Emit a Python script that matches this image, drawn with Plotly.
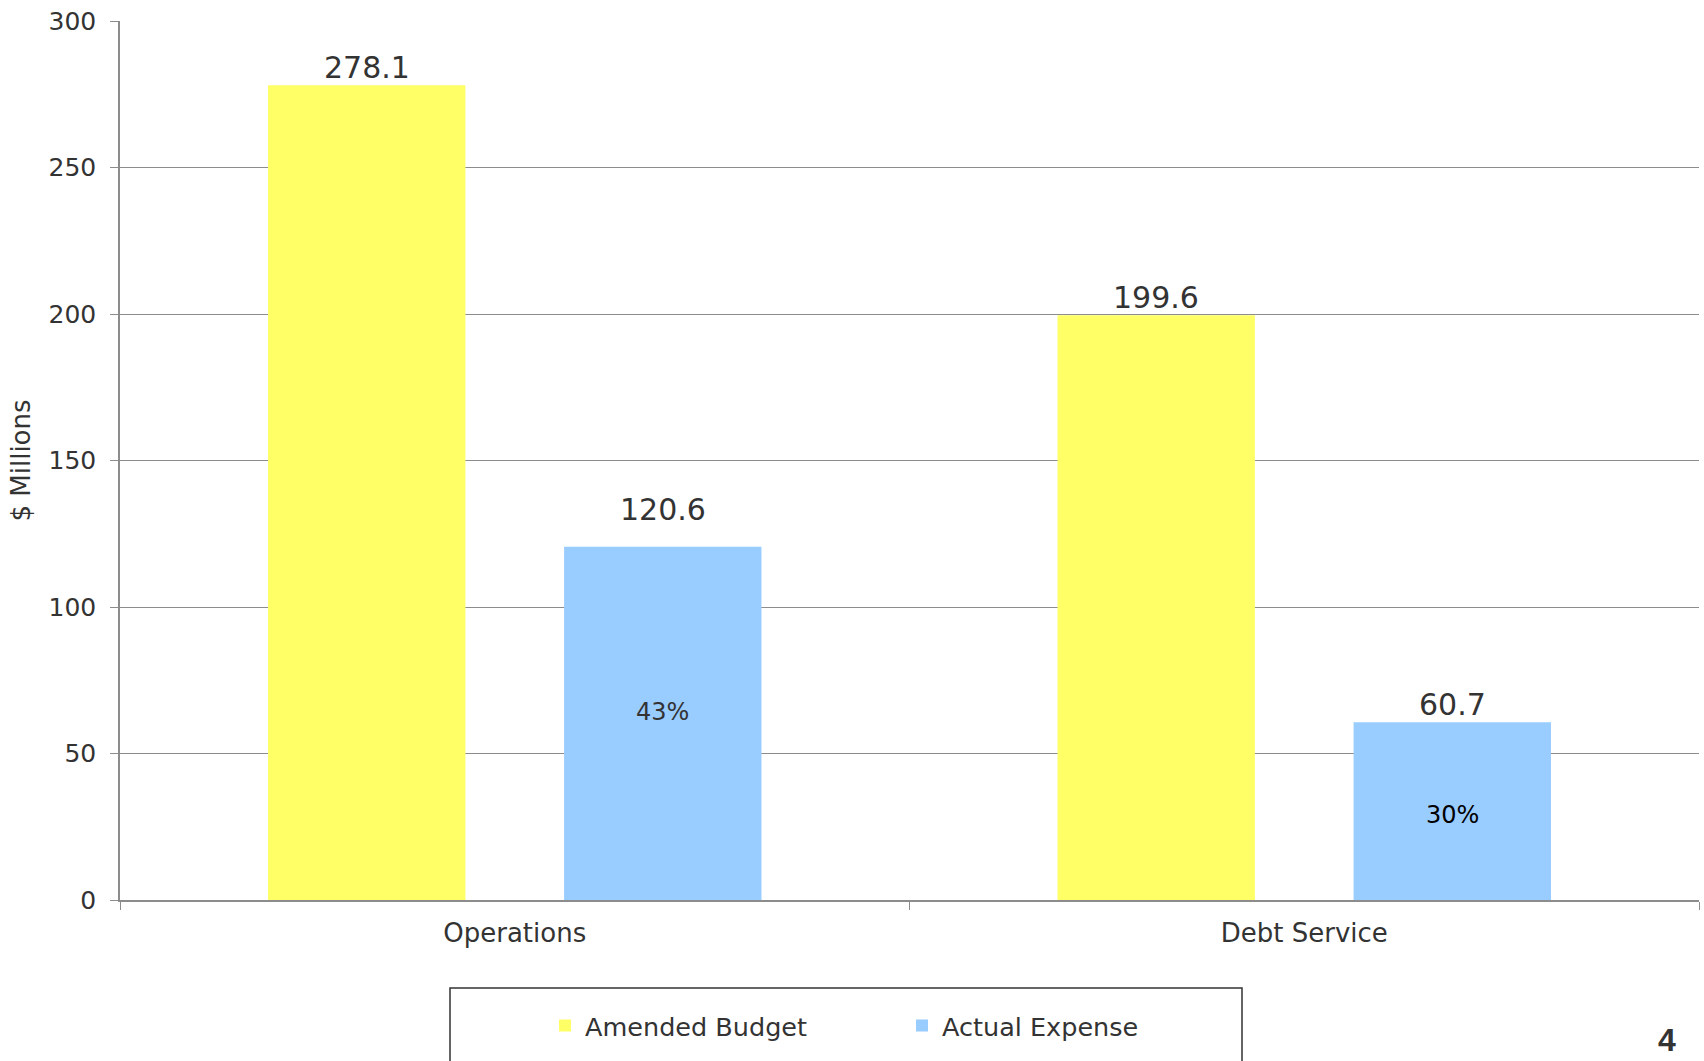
import plotly.graph_objects as go

categories = ["Operations", "Debt Service"]
amended_budget = [278.1, 199.6]
actual_expense = [120.6, 60.7]
pct_labels = ["43%", "30%"]
y_ticks = [0, 50, 100, 150, 200, 250, 300]

# styling
YELLOW = "#FFFF66"
BLUE = "#99CCFF"
TXT = "#333333"
GRID = "#8C8C8C"
FONT = "DejaVu Sans"
value_yshift_budget = [-2, -2]
value_yshift_actual = [18, -2]
pct_yshift = [11, -4]
pct_colors = ["#333333", "#000000"]
offset = 0.1875

fig = go.Figure()
fig.add_trace(go.Bar(name="Amended Budget", x=categories, y=amended_budget,
                     marker=dict(color=YELLOW, line=dict(width=0))))
fig.add_trace(go.Bar(name="Actual Expense", x=categories, y=actual_expense,
                     marker=dict(color=BLUE, line=dict(width=0))))

annotations = []
for i, c in enumerate(categories):
    annotations.append(dict(x=i - offset, y=amended_budget[i], xref="x", yref="y",
                            text=f"{amended_budget[i]:.1f}", showarrow=False, yanchor="bottom",
                            yshift=value_yshift_budget[i], font=dict(family=FONT, size=30, color=TXT)))
    annotations.append(dict(x=i + offset, y=actual_expense[i], xref="x", yref="y",
                            text=f"{actual_expense[i]:.1f}", showarrow=False, yanchor="bottom",
                            yshift=value_yshift_actual[i], font=dict(family=FONT, size=30, color=TXT)))
    annotations.append(dict(x=i + offset, y=actual_expense[i] / 2, xref="x", yref="y",
                            text=pct_labels[i], showarrow=False, yanchor="middle",
                            yshift=pct_yshift[i], font=dict(family=FONT, size=24, color=pct_colors[i])))

W, H = 1704, 1061
L, R, T, B = 120, 5, 21, 161
pw, ph = W - L - R, H - T - B

def px2paper_x(px):
    return (px - L) / pw

def px2paper_y(py):
    return (H - B - py) / ph

annotations.append(dict(x=px2paper_x(1667), y=px2paper_y(1060), xref="paper", yref="paper",
                        text="<b>4</b>", showarrow=False, xanchor="center", yanchor="bottom",
                        font=dict(family="Liberation Sans", size=32, color=TXT)))

fig.update_layout(
    width=W, height=H,
    margin=dict(l=L, r=R, t=T, b=B, autoexpand=False),
    paper_bgcolor="white", plot_bgcolor="white",
    barmode="group", bargap=0.25, bargroupgap=1/3,
    font=dict(family=FONT, size=25, color=TXT),
    showlegend=True,
    legend=dict(orientation="h", x=px2paper_x(545), y=px2paper_y(1026),
                xanchor="left", yanchor="middle",
                font=dict(family=FONT, size=25.5, color=TXT),
                entrywidth=312, entrywidthmode="pixels",
                bgcolor="rgba(0,0,0,0)", borderwidth=0),
    annotations=annotations,
    shapes=[dict(type="rect", xref="paper", yref="paper",
                 x0=px2paper_x(450), x1=px2paper_x(1242),
                 y0=px2paper_y(988), y1=px2paper_y(1090),
                 line=dict(color="#333333", width=1.5), fillcolor="rgba(0,0,0,0)")],
    xaxis=dict(type="category", showline=True, linecolor=GRID, linewidth=1.5,
               ticks="outside", tickson="boundaries", ticklen=8, tickcolor=GRID,
               showgrid=False, tickfont=dict(family=FONT, size=26, color=TXT),
               ticklabelstandoff=9),
    yaxis=dict(range=[0, 300], tickvals=y_ticks, showline=True, linecolor=GRID, linewidth=1.5,
               ticks="outside", ticklen=8, tickcolor=GRID,
               showgrid=True, gridcolor=GRID, gridwidth=1.2, zeroline=False,
               tickfont=dict(family=FONT, size=25, color=TXT), ticklabelstandoff=9,
               title=dict(text="$ Millions", font=dict(family=FONT, size=26, color=TXT), standoff=10)),
)

fig.write_html("out.html")
